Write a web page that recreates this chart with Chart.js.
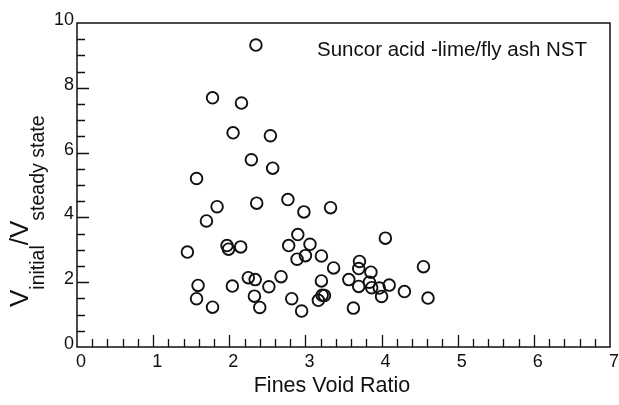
<!DOCTYPE html>
<html>
<head>
<meta charset="utf-8">
<script src="https://cdn.jsdelivr.net/npm/chart.js@4/dist/chart.umd.min.js"></script>
<style>
  html, body { margin: 0; padding: 0; background: #fff; }
  #wrap { width: 619px; height: 405px; position: relative; }
</style>
</head>
<body>
<div id="wrap"><canvas id="c" width="619" height="405"></canvas></div>
<script>
// Fines void ratio (x) and V_initial / V_steady state (y) for each test
const fineVoidRatio = [
  2.35, 1.78, 2.16, 2.05, 2.54, 2.29, 2.57, 1.57, 2.36, 2.77,
  1.84, 2.98, 3.33, 1.70, 2.90, 1.97, 1.99, 2.15, 1.45, 2.78,
  3.06, 3.00, 2.89, 3.21, 3.37, 2.25, 2.34, 2.68, 3.21, 1.59,
  2.04, 2.52, 1.57, 2.33, 2.82, 1.78, 2.40, 2.95, 3.17, 3.22,
  3.25, 4.05, 3.71, 3.70, 3.86, 3.57, 3.84, 3.70, 3.87, 3.97,
  4.10, 4.00, 4.30, 4.55, 4.61, 3.63
];
const velocityRatio = [
  9.32, 7.69, 7.53, 6.61, 6.52, 5.78, 5.52, 5.20, 4.44, 4.55,
  4.33, 4.17, 4.30, 3.89, 3.47, 3.13, 3.02, 3.09, 2.93, 3.13,
  3.17, 2.82, 2.71, 2.81, 2.44, 2.14, 2.08, 2.17, 2.04, 1.90,
  1.88, 1.86, 1.49, 1.57, 1.49, 1.23, 1.22, 1.11, 1.44, 1.60,
  1.59, 3.36, 2.64, 2.42, 2.31, 2.08, 2.00, 1.87, 1.83, 1.82,
  1.91, 1.56, 1.71, 2.48, 1.51, 1.20
];

// Axis ranges and tick spacing
const xRange = [0, 7];
const yRange = [0, 10];
const xMajorStep = 1, xMinorStep = 0.2;
const yMajorStep = 2, yMinorStep = 0.5;

// Text
const seriesNote = 'Suncor acid -lime/fly ash NST';
const xTitle = 'Fines Void Ratio';
const yTitleParts = [
  { text: 'V', sub: false },
  { text: 'initial', sub: true },
  { text: '/V', sub: false },
  { text: 'steady state', sub: true }
];

const INK = '#111';
const FONT = '"Liberation Sans", Arial, Helvetica, sans-serif';

// Box frame, inward major/minor tick marks and the free-standing texts
const frameTicks = {
  id: 'frameTicks',
  afterDraw(chart) {
    const { ctx, chartArea: a, scales: { x, y } } = chart;
    ctx.save();
    ctx.strokeStyle = INK;
    ctx.lineWidth = 1.5;
    ctx.strokeRect(a.left, a.top, a.right - a.left, a.bottom - a.top);
    ctx.lineWidth = 1.3;
    ctx.beginPath();
    const nx = Math.round((xRange[1] - xRange[0]) / xMinorStep);
    for (let i = 1; i < nx; i++) {
      const v = xRange[0] + i * xMinorStep;
      const major = Math.abs(v / xMajorStep - Math.round(v / xMajorStep)) < 1e-6;
      const px = Math.round(x.getPixelForValue(v)) + 0.5;
      ctx.moveTo(px, a.bottom);
      ctx.lineTo(px, a.bottom - (major ? 12 : 8));
    }
    const ny = Math.round((yRange[1] - yRange[0]) / yMinorStep);
    for (let i = 1; i < ny; i++) {
      const v = yRange[0] + i * yMinorStep;
      const major = Math.abs(v / yMajorStep - Math.round(v / yMajorStep)) < 1e-6;
      const py = Math.round(y.getPixelForValue(v)) + 0.5;
      ctx.moveTo(a.left, py);
      ctx.lineTo(a.left + (major ? 12 : 8), py);
    }
    ctx.stroke();

    ctx.fillStyle = INK;
    ctx.textBaseline = 'alphabetic';

    // series note in the upper right of the plot
    ctx.font = '20.5px ' + FONT;
    ctx.textAlign = 'left';
    ctx.fillText(seriesNote, 317, 56);

    // x title
    ctx.font = '21.5px ' + FONT;
    ctx.textAlign = 'center';
    ctx.fillText(xTitle, 332, 392);

    // rotated y title with subscripts
    ctx.textAlign = 'left';
    ctx.translate(28, 307);
    ctx.rotate(-Math.PI / 2);
    let cx = 0;
    for (const p of yTitleParts) {
      ctx.font = (p.sub ? '19.5px ' : '26px ') + FONT;
      ctx.fillText(p.text, cx, p.sub ? 16 : 0);
      cx += ctx.measureText(p.text).width;
    }
    ctx.restore();
  }
};

new Chart(document.getElementById('c'), {
  type: 'scatter',
  data: {
    datasets: [{
      data: fineVoidRatio.map((v, i) => ({ x: v, y: velocityRatio[i] })),
      pointStyle: 'circle',
      pointRadius: 5.8,
      pointBorderWidth: 1.9,
      borderColor: INK,
      backgroundColor: 'rgba(0,0,0,0)',
      pointHoverRadius: 5.8
    }]
  },
  options: {
    responsive: false,
    animation: false,
    devicePixelRatio: 1,
    layout: { padding: { left: 0, right: 6, top: 23, bottom: 0 } },
    plugins: { legend: { display: false }, tooltip: { enabled: false } },
    scales: {
      x: {
        type: 'linear',
        min: xRange[0], max: xRange[1],
        grid: { display: false, drawTicks: false },
        border: { display: false },
        ticks: {
          stepSize: xMajorStep, color: INK, padding: 4, labelOffset: 4,
          maxRotation: 0, font: { family: FONT, size: 18 }
        },
        afterFit(s) { s.height = 58; }
      },
      y: {
        type: 'linear',
        min: yRange[0], max: yRange[1],
        grid: { display: false, drawTicks: false },
        border: { display: false },
        ticks: {
          stepSize: yMajorStep, color: INK, padding: 3, labelOffset: -3,
          font: { family: FONT, size: 18 }
        },
        afterFit(s) { s.width = 77; }
      }
    }
  },
  plugins: [frameTicks]
});
</script>
</body>
</html>
